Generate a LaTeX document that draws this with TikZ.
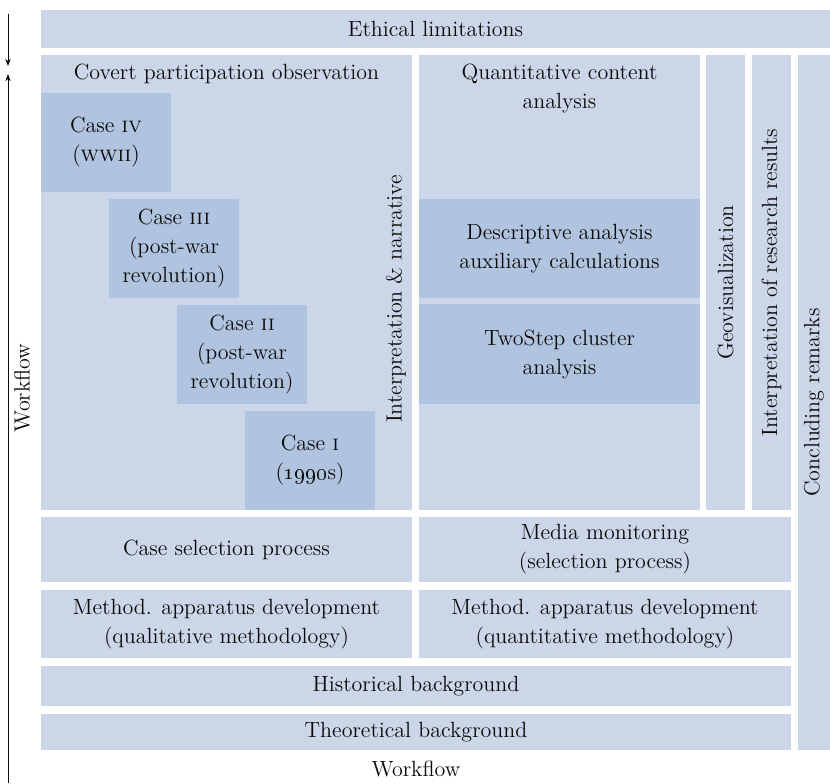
\documentclass[tikz,border=0pt]{standalone}
\usetikzlibrary{arrows.meta}
\definecolor{boxlight}{RGB}{203,214,232}
\definecolor{boxdark}{RGB}{176,195,223}
\definecolor{txt}{RGB}{10,10,10}
\begin{document}
\begin{tikzpicture}[x=0.5pt,y=-0.5pt,
  every node/.style={font=\fontsize{11pt}{14.5pt}\selectfont, text=txt, inner sep=0pt, outer sep=0pt, align=center},
  lbox/.style={fill=boxlight, draw=none, anchor=center},
  dbox/.style={fill=boxdark, draw=none, anchor=center},
  flowarrow/.style={line width=0.5pt, draw=txt, -{Stealth[length=3.5pt,width=2.6pt,inset=1pt]}}
]
\useasboundingbox (0,0) rectangle (830,783);

% top bar
\node[lbox, minimum width=394.5pt, minimum height=19pt] (eth) at (435.5,29) {Ethical limitations};

% main boxes
\node[lbox, minimum width=185.5pt, minimum height=227.5pt] (cov) at (226.5,282.5) {};
\node (covt) at (226.5,74) {Covert participation observation};
\node[lbox, minimum width=140.5pt, minimum height=227.5pt] (quant) at (559.5,282.5) {};
\node (quantt) at (559.5,88) {Quantitative content\\analysis};

\node[lbox, rotate=90, minimum width=227.5pt, minimum height=19.5pt] (geo) at (725.5,282.5) {Geovisualization};
\node[lbox, rotate=90, minimum width=227.5pt, minimum height=19.5pt] (interp) at (771.5,282.5) {Interpretation of research results};
\node[lbox, rotate=90, minimum width=347.5pt, minimum height=16pt] (concl) at (814,402.5) {Concluding remarks};

% cases
\node[dbox, minimum width=65pt, minimum height=49.5pt] (c4) at (106,142.5) {Case \textsc{iv}\\(\textsc{wwii})};
\node[dbox, minimum width=65pt, minimum height=49.5pt] (c3) at (174,248.5) {Case \textsc{iii}\\(post-war\\revolution)};
\node[dbox, minimum width=65pt, minimum height=49.5pt] (c2) at (242,354.5) {Case \textsc{ii}\\(post-war\\revolution)};
\node[dbox, minimum width=65pt, minimum height=49.5pt] (c1) at (310,460.5) {Case \textsc{i}\\(\oldstylenums{1990}s)};

\node[rotate=90] (narr) at (396,299) {Interpretation \& narrative};

% quantitative inner
\node[dbox, minimum width=140.5pt, minimum height=49.5pt] (desc) at (559.5,248.5) {Descriptive analysis\\auxiliary calculations};
\node[dbox, minimum width=140.5pt, minimum height=50pt] (two) at (559.5,354) {TwoStep cluster\\analysis};

% lower rows
\node[lbox, minimum width=185.5pt, minimum height=32.5pt] (csel) at (226.5,549.5) {Case selection process};
\node[lbox, minimum width=186pt, minimum height=32.5pt] (media) at (605,549.5) {Media monitoring\\(selection process)};
\node[lbox, minimum width=185.5pt, minimum height=34pt] (mql) at (226.5,624) {Method. apparatus development\\(qualitative methodology)};
\node[lbox, minimum width=186pt, minimum height=34pt] (mqt) at (605,624) {Method. apparatus development\\(quantitative methodology)};
\node[lbox, minimum width=375pt, minimum height=20pt] (hist) at (416,686) {Historical background};
\node[lbox, minimum width=375pt, minimum height=18pt] (theo) at (416,732) {Theoretical background};

% workflow labels and arrows
\node (wfb) at (416,769) {Workflow};
\node[rotate=90] (wfl) at (22,388) {Workflow};
\coordinate (a1) at (8,14);
\coordinate (a2) at (8,66);
\coordinate (b1) at (8,783);
\coordinate (b2) at (8,74);
\draw[flowarrow] (a1) -- (a2);
\draw[flowarrow] (b1) -- (b2);
\end{tikzpicture}
\end{document}
